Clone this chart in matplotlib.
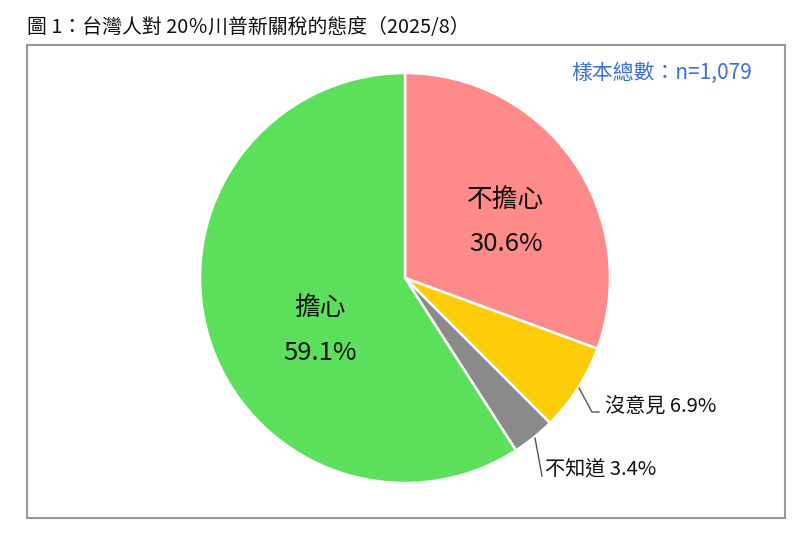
import matplotlib.pyplot as plt
from matplotlib.patches import Rectangle

plt.rcParams['font.family'] = ['Noto Sans CJK TC', 'DejaVu Sans']

labels = ['不擔心', '沒意見', '不知道', '擔心']
values = [30.6, 6.9, 3.4, 59.1]
colors = ['#FF8A8A', '#FFCC0A', '#8A8A8A', '#5CE05C']
title = '圖 1：台灣人對 20％川普新關稅的態度（2025/8）'
sample_note = '樣本總數：n=1,079'

W, H = 808, 544
fig = plt.figure(figsize=(W / 100, H / 100), dpi=100)

# outer frame around the chart area (pixel coords from top-left)
fx0, fy0, fx1, fy1 = 27, 45, 785, 518
fig.patches.append(Rectangle((fx0 / W, 1 - fy1 / H), (fx1 - fx0) / W, (fy1 - fy0) / H,
                             transform=fig.transFigure, fill=False,
                             edgecolor='#9a9a9a', linewidth=1.5))

fig.text(27 / W, 1 - 27 / H, title, fontsize=14.3, va='center', ha='left', color='#111111')
fig.text(752 / W, 1 - 73 / H, sample_note, fontsize=15, va='center', ha='right',
         color='#3D6FD8')

# pie axes: centre (405, 278), radius 205 px
cx, cy, r = 405, 278, 205
ax = fig.add_axes([(cx - r) / W, 1 - (cy + r) / H, 2 * r / W, 2 * r / H])
ax.pie(values, colors=colors, startangle=90, counterclock=False, radius=1,
       wedgeprops=dict(edgecolor='white', linewidth=1.8))
ax.set_xlim(-1, 1)
ax.set_ylim(-1, 1)
ax.set_aspect('equal')
ax.axis('off')


def px(x, y):
    return (x - cx) / r, (cy - y) / r


# inside labels
for name, val, p1, p2 in [(labels[0], values[0], (506, 200), (506, 244)),
                          (labels[3], values[3], (320, 308), (320, 353))]:
    ax.text(*px(*p1), name, fontsize=18.5, ha='center', va='center', color='#111111',
            fontweight='medium')
    ax.text(*px(*p2), f'{val}%', fontsize=18.5, ha='center', va='center', color='#111111',
            fontweight='medium')

# outside labels with leader lines
lx, ly = zip(px(579, 388), px(592, 412), px(599, 412))
ax.plot(lx, ly, color='#555555', lw=1, clip_on=False)
ax.text(*px(605, 407), f'{labels[1]} {values[1]}%', fontsize=14.5, ha='left', va='center',
        color='#111111', fontweight='medium')

lx, ly = zip(px(535, 438), px(542, 476))
ax.plot(lx, ly, color='#555555', lw=1, clip_on=False)
ax.text(*px(545, 470), f'{labels[2]} {values[2]}%', fontsize=14.5, ha='left', va='center',
        color='#111111', fontweight='medium')

fig.savefig('out.png', dpi=100, facecolor='white')
